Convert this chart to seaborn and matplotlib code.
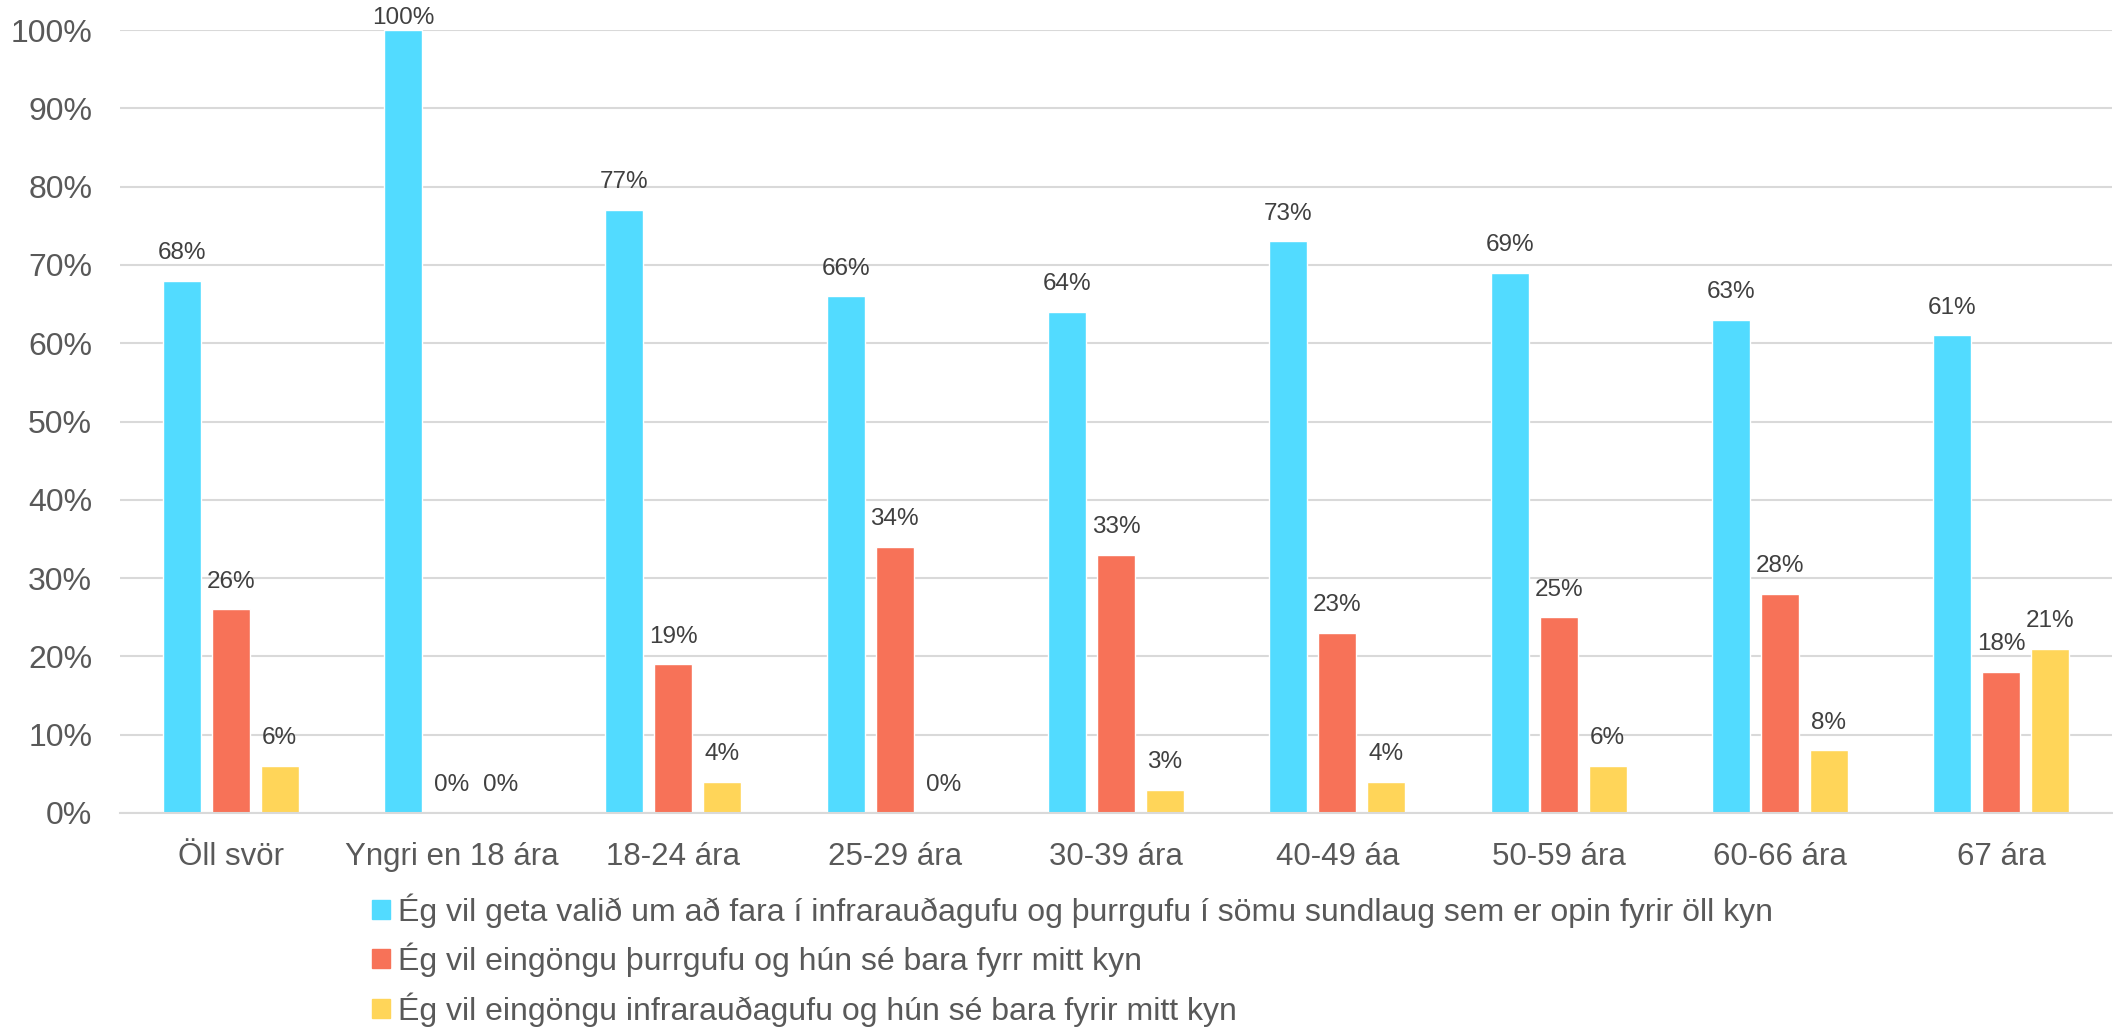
import pandas as pd
import matplotlib.pyplot as plt
import seaborn as sns

# Chart data
categories = ['Öll svör', 'Yngri en 18 ára', '18-24 ára', '25-29 ára', '30-39 ára',
              '40-49 áa', '50-59 ára', '60-66 ára', '67 ára']
series = ['Ég vil geta valið um að fara í infrarauðagufu og þurrgufu í sömu sundlaug sem er opin fyrir öll kyn',
          'Ég vil eingöngu þurrgufu og hún sé bara fyrr mitt kyn',
          'Ég vil eingöngu infrarauðagufu og hún sé bara fyrir mitt kyn']
both_open = [68, 100, 77, 66, 64, 73, 69, 63, 61]
dry_only = [26, 0, 19, 34, 33, 23, 25, 28, 18]
infra_only = [6, 0, 4, 0, 3, 4, 6, 8, 21]
colors = ['#52DBFF', '#F77258', '#FFD559']

rows = []
for name, vals in zip(series, [both_open, dry_only, infra_only]):
    for cat, v in zip(categories, vals):
        rows.append({'Hópur': cat, 'Svar': name, 'Hlutfall': v})
df = pd.DataFrame(rows)

sns.set_style('white')
plt.rcParams['font.family'] = ['Liberation Sans', 'DejaVu Sans']

fig = plt.figure(figsize=(21.13, 10.32), dpi=100)
ax = fig.add_axes([120 / 2113, 1 - 813 / 1032, 1992 / 2113, 783 / 1032])

sns.barplot(data=df, x='Hópur', y='Hlutfall', hue='Svar', order=categories,
            hue_order=series, palette=colors, width=0.664, gap=0.22,
            saturation=1, errorbar=None, ax=ax, legend=False)

for cont in ax.containers:
    labels = ax.bar_label(cont, fmt='{:.0f}%', padding=12, fontsize=17.5, color='#404040')
    # the 100% label sits closer to its bar so it stays inside the figure
    for lab, bar in zip(labels, cont):
        if bar.get_height() >= 100:
            lab.xyann = (0, 1)

ax.set_ylim(0, 100)
ax.set_xlim(-0.5, len(categories) - 0.5)
ax.set_yticks(range(0, 101, 10))
ax.set_yticklabels([f'{t}%' for t in range(0, 101, 10)])
ax.yaxis.grid(True, color='#D9D9D9', linewidth=1.5)
ax.set_axisbelow(True)
for s in ['top', 'right', 'left']:
    ax.spines[s].set_visible(False)
ax.spines['bottom'].set_color('#D9D9D9')
ax.spines['bottom'].set_linewidth(1.5)
ax.tick_params(axis='y', length=0, pad=20, labelsize=23, labelcolor='#595959')
ax.tick_params(axis='x', length=0, pad=21, labelsize=22.5, labelcolor='#595959')
ax.set_xlabel('')
ax.set_ylabel('')

handles = [plt.Rectangle((0, 0), 1, 1, color=c) for c in colors]
fig.legend(handles, series, loc='upper left', bbox_to_anchor=(372 / 2113, 1 - 893 / 1032),
           frameon=False, fontsize=23, labelcolor='#595959', handlelength=0.55,
           handleheight=0.55, handletextpad=0.25, labelspacing=0.47, borderpad=0,
           borderaxespad=0)

fig.savefig('out.png', dpi=100)
